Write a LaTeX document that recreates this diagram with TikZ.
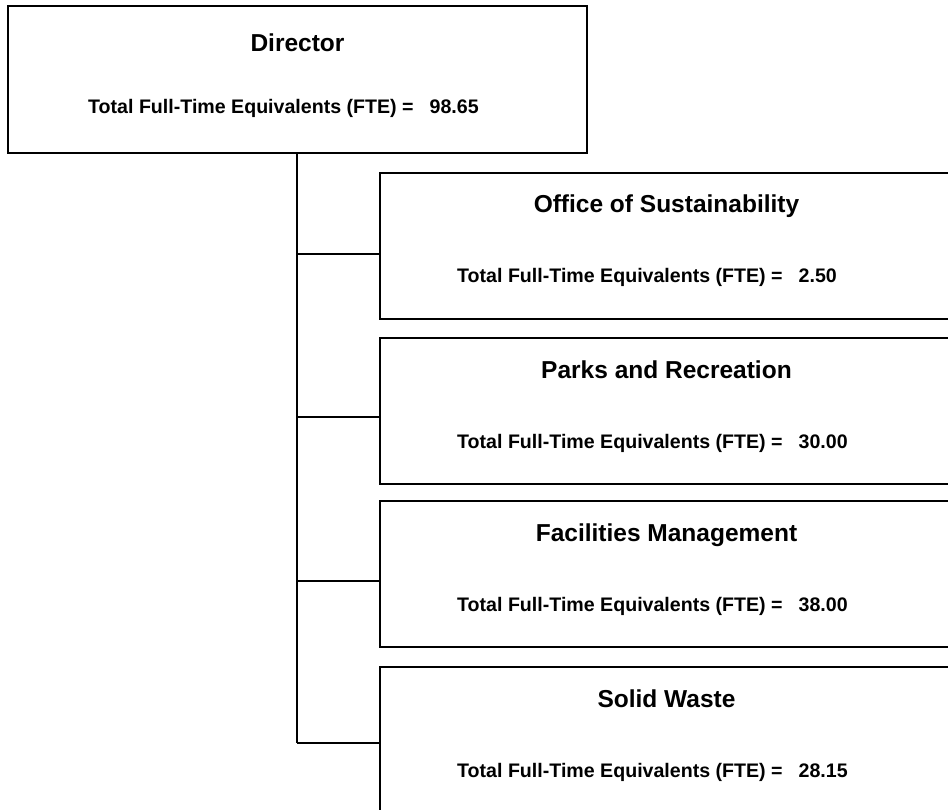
\documentclass[tikz,border=0pt]{standalone}
\usepackage{fontspec}
\setmainfont{Liberation Sans}
\usetikzlibrary{positioning, calc}

\begin{document}
\begin{tikzpicture}[
        x=1pt, y=1pt,
        unitbox/.style={draw, line width=2pt, minimum width=573pt, minimum height=146pt, inner sep=0pt, anchor=north west},
        headbox/.style={unitbox, minimum width=579pt, minimum height=147pt},
        unittitle/.style={anchor=base, inner sep=0pt, font=\fontsize{24.5}{29}\selectfont\bfseries},
        ftetext/.style={anchor=base west, inner sep=0pt, font=\fontsize{19.6}{23}\selectfont\bfseries},
        link/.style={line width=2pt},
    ]
        \useasboundingbox (0,0) rectangle (948,-810);
        \clip (0,0) rectangle (948,-810);

        % Director
        \node[headbox] (dir) at (7,-5) {};
        \node[unittitle] (dir-title) at ($(dir.north)+(0,-47)$) {Director};
        \node[ftetext] (dir-fte) at ($(dir.north west)+(81,-109)$) {Total Full-Time Equivalents (FTE) =\hspace{16pt}98.65};

        % Divisions (name/top/connector/title/FTE)
        \foreach \name/\top/\tap/\title/\fte in {
            sub1/172/254/Office of Sustainability/2.50,
            sub2/337/417/Parks and Recreation/30.00,
            sub3/500/581/Facilities Management/38.00,
            sub4/666/743/Solid Waste/28.15} {
            \node[unitbox] (\name) at (379,-\top) {};
            \node[unittitle] (\name-title) at ($(\name.north)+(0,-41)$) {\title};
            \node[ftetext] (\name-fte) at ($(\name.north west)+(78,-111)$) {Total Full-Time Equivalents (FTE) =\hspace{16pt}\fte};
            \coordinate (\name-tap) at (297,-\tap);
            \draw[link] (\name-tap) -- (\name-tap -| \name.west);
        }

        % trunk from the director down to the last division
        \draw[link] (dir.south -| sub1-tap) -- (sub4-tap);
    \end{tikzpicture}
\end{document}
